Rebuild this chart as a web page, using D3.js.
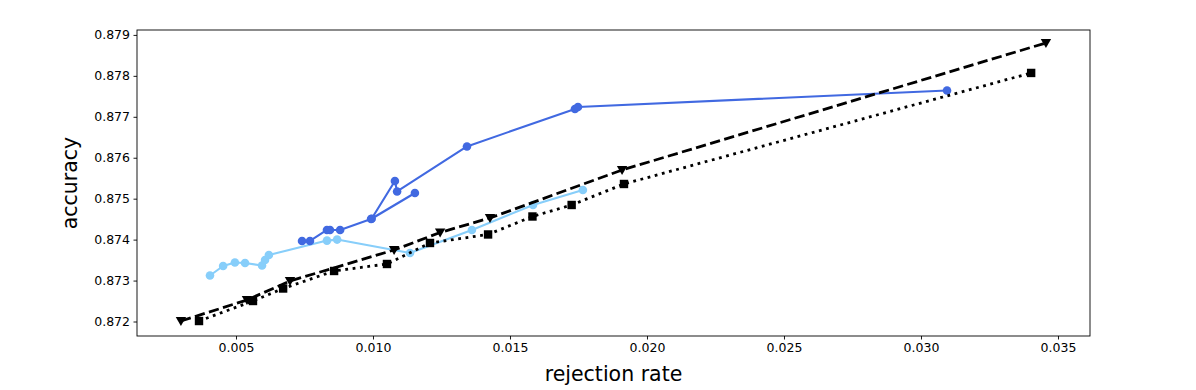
<!DOCTYPE html>
<html>
<head>
<meta charset="utf-8">
<script src="https://cdn.jsdelivr.net/npm/d3@7"></script>
<style>
  html, body { margin: 0; padding: 0; background: #fff; }
  svg { display: block; font-family: "DejaVu Sans", sans-serif; }
</style>
</head>
<body>
<div id="chart"></div>
<script>
// values
const darkX = [0.00741, 0.00770, 0.00832, 0.00843, 0.00880, 0.00993, 0.01153, 0.00995, 0.01080, 0.01088, 0.01343, 0.01737, 0.01748, 0.03095];
const darkY = [0.873967, 0.873967, 0.874236, 0.874236, 0.874236, 0.874504, 0.875139, 0.874510, 0.875433, 0.875176, 0.876276, 0.877192, 0.877241, 0.877644];

const lightX = [0.00405, 0.00453, 0.00496, 0.00533, 0.00595, 0.00606, 0.00620, 0.00832, 0.00869, 0.01135, 0.01361, 0.01584, 0.01766];
const lightY = [0.873124, 0.873356, 0.873441, 0.873429, 0.873368, 0.873503, 0.873625, 0.873976, 0.874001, 0.873674, 0.874236, 0.874847, 0.875213];

const triX = [0.00299, 0.00540, 0.00697, 0.01077, 0.01245, 0.01427, 0.01909, 0.03456];
const triY = [0.872012, 0.872525, 0.872989, 0.873747, 0.874174, 0.874529, 0.875701, 0.878804];

const sqX = [0.00365, 0.00562, 0.00672, 0.00858, 0.01051, 0.01208, 0.01420, 0.01582, 0.01725, 0.01916, 0.03402];
const sqY = [0.872012, 0.872501, 0.872806, 0.873234, 0.873405, 0.873918, 0.874126, 0.874565, 0.874846, 0.875359, 0.878071];

const xTicks = [0.005, 0.010, 0.015, 0.020, 0.025, 0.030, 0.035];
const yTicks = [0.872, 0.873, 0.874, 0.875, 0.876, 0.877, 0.878, 0.879];

const width = 1196;
const height = 390;
const plot = { left: 137, right: 1090, top: 30, bottom: 336 };

const x = d3.scaleLinear().domain([0.001387, 0.036168]).range([plot.left, plot.right]);
const y = d3.scaleLinear().domain([0.871646, 0.87912]).range([plot.bottom, plot.top]);

const svg = d3.select("#chart").append("svg")
    .attr("width", width)
    .attr("height", height);

const zip = (xs, ys) => xs.map((v, i) => [v, ys[i]]);
const line = d3.line().x(d => x(d[0])).y(d => y(d[1]));

const plotArea = svg.append("g");

function drawSeries(points, opts) {
    const g = plotArea.append("g");
    g.append("path")
        .datum(points)
        .attr("d", line)
        .attr("fill", "none")
        .attr("stroke", opts.color)
        .attr("stroke-width", opts.lw)
        .attr("stroke-dasharray", opts.dash || null)
        .attr("stroke-linejoin", "round")
        .attr("stroke-linecap", opts.dash ? "butt" : "round");

    if (opts.marker === "circle") {
        g.selectAll("circle").data(points).join("circle")
            .attr("cx", d => x(d[0]))
            .attr("cy", d => y(d[1]))
            .attr("r", 4.3)
            .attr("fill", opts.color);
    } else if (opts.marker === "square") {
        const s = 8.4;
        g.selectAll("rect").data(points).join("rect")
            .attr("x", d => x(d[0]) - s / 2)
            .attr("y", d => y(d[1]) - s / 2)
            .attr("width", s)
            .attr("height", s)
            .attr("fill", opts.color);
    } else if (opts.marker === "tri") {
        const r = 5.2;
        g.selectAll("path.m").data(points).join("path")
            .attr("class", "m")
            .attr("d", d => {
                const cx = x(d[0]), cy = y(d[1]);
                return `M${cx - r},${cy - r * 0.75}L${cx + r},${cy - r * 0.75}L${cx},${cy + r * 0.95}Z`;
            })
            .attr("fill", opts.color);
    }
}

drawSeries(zip(lightX, lightY), { color: "#87CEFA", lw: 2.1, marker: "circle" });
drawSeries(zip(darkX, darkY), { color: "#4169E1", lw: 2.1, marker: "circle" });
drawSeries(zip(triX, triY), { color: "#000", lw: 2.8, dash: "10.3,4.4", marker: "tri" });
drawSeries(zip(sqX, sqY), { color: "#000", lw: 2.8, dash: "2.8,4.6", marker: "square" });

// axes
const xAxis = svg.append("g")
    .attr("transform", `translate(0,${plot.bottom})`)
    .call(d3.axisBottom(x).tickValues(xTicks).tickFormat(d3.format(".3f")).tickSizeInner(3.5).tickSizeOuter(0).tickPadding(3.5));
const yAxis = svg.append("g")
    .attr("transform", `translate(${plot.left},0)`)
    .call(d3.axisLeft(y).tickValues(yTicks).tickFormat(d3.format(".3f")).tickSizeInner(3.5).tickSizeOuter(0).tickPadding(3.5));

[xAxis, yAxis].forEach(a => {
    a.select(".domain").remove();
    a.selectAll("text").attr("font-size", 12.5).attr("fill", "#000").attr("font-family", "DejaVu Sans");
    a.selectAll("line").attr("stroke", "#000").attr("stroke-width", 0.9);
});

svg.append("rect")
    .attr("x", plot.left)
    .attr("y", plot.top)
    .attr("width", plot.right - plot.left)
    .attr("height", plot.bottom - plot.top)
    .attr("fill", "none")
    .attr("stroke", "#000")
    .attr("stroke-width", 0.9);

svg.append("text")
    .attr("x", (plot.left + plot.right) / 2)
    .attr("y", 381)
    .attr("text-anchor", "middle")
    .attr("font-size", 20.5)
    .text("rejection rate");

svg.append("text")
    .attr("transform", `translate(77,${(plot.top + plot.bottom) / 2}) rotate(-90)`)
    .attr("text-anchor", "middle")
    .attr("font-size", 20.5)
    .text("accuracy");
</script>
</body>
</html>
